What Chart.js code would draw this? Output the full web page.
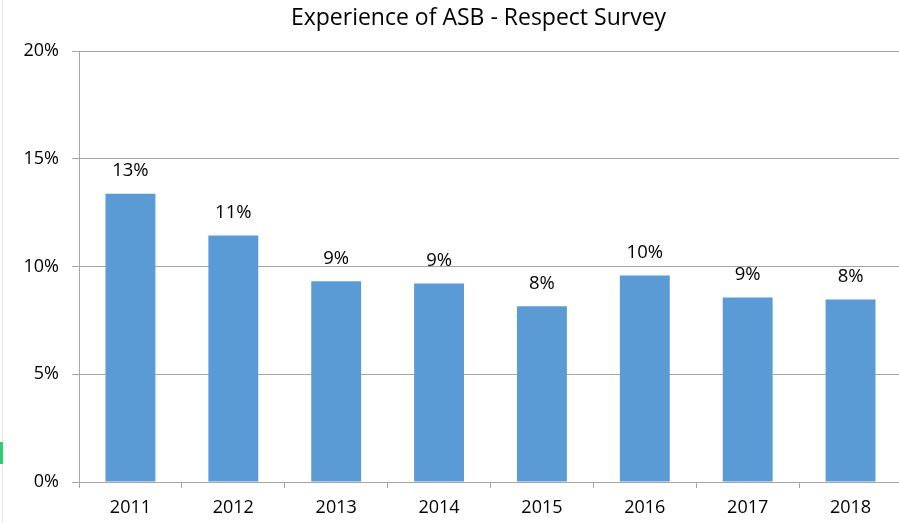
<!DOCTYPE html>
<html>
<head>
<meta charset="utf-8">
<script src="https://cdn.jsdelivr.net/npm/chart.js@4"></script>
<style>
  html, body { margin: 0; padding: 0; background: #fff; overflow: hidden; }
  #wrap { position: relative; width: 899px; height: 523px; overflow: hidden; }
  #edge { position: absolute; left: 2px; top: 0; width: 1px; height: 523px; background: #e4e4e4; }
  #mark { position: absolute; left: 0; top: 442px; width: 3px; height: 22px; background: #2ecc71; }
  canvas { position: absolute; left: 0; top: 0; }
</style>
</head>
<body>
<div id="wrap">
  <div id="edge"></div>
  <div id="mark"></div>
  <canvas id="asbChart" width="902" height="523"></canvas>
</div>
<script>
const years = ['2011', '2012', '2013', '2014', '2015', '2016', '2017', '2018'];
const asbValues = [13.38, 11.44, 9.31, 9.21, 8.15, 9.58, 8.56, 8.47];
const yTicks = [0, 5, 10, 15, 20];
const chartTitle = 'Experience of ASB - Respect Survey';

const fontFamily = "'Open Sans', sans-serif";

// value labels above bars + title (title sits a bit left of the plot centre)
const valueLabels = {
    id: 'valueLabels',
    afterDatasetsDraw(chart) {
        const ctx = chart.ctx;
        const meta = chart.getDatasetMeta(0);
        const area = chart.chartArea;
        ctx.save();
        ctx.fillStyle = '#000';
        ctx.textAlign = 'center';
        ctx.textBaseline = 'middle';
        ctx.font = '23px ' + fontFamily;
        ctx.fillText(chartTitle, (area.left + area.right) / 2 - 12, 18);
        ctx.font = '18.5px ' + fontFamily;
        meta.data.forEach(function (bar, i) {
            ctx.fillText(Math.round(asbValues[i]) + '%', bar.x, bar.y - 23);
        });
        ctx.restore();
    }
};

document.addEventListener('DOMContentLoaded', function () {
    const ctx = document.getElementById('asbChart').getContext('2d');
    new Chart(ctx, {
        type: 'bar',
        data: {
            labels: years,
            datasets: [{
                label: 'Experience of ASB',
                data: asbValues,
                backgroundColor: '#5B9BD5',
                borderWidth: 0,
                categoryPercentage: 1,
                barPercentage: 0.485
            }]
        },
        options: {
            responsive: false,
            animation: false,
            layout: { padding: { top: 51, left: 0, right: 0, bottom: 0 } },
            scales: {
                y: {
                    min: 0,
                    max: 20,
                    afterBuildTicks: function (scale) {
                        scale.ticks = yTicks.map(function (v) { return { value: v }; });
                    },
                    afterFit: function (scale) { scale.width = 79; },
                    grid: { color: '#a6a6a6', tickLength: 7, lineWidth: 1 },
                    border: { color: '#a6a6a6' },
                    ticks: {
                        padding: 13,
                        color: '#000',
                        font: { family: fontFamily, size: 18 },
                        callback: function (v) { return v + '%'; }
                    }
                },
                x: {
                    afterFit: function (scale) { scale.height = 41; },
                    grid: { offset: true, drawOnChartArea: false, color: '#a6a6a6', tickLength: 6 },
                    border: { color: '#a6a6a6' },
                    ticks: {
                        padding: 9,
                        color: '#000',
                        font: { family: fontFamily, size: 18 }
                    }
                }
            },
            plugins: {
                legend: { display: false },
                tooltip: { enabled: false },
                title: { display: false }
            }
        },
        plugins: [valueLabels]
    });
});
</script>
</body>
</html>
